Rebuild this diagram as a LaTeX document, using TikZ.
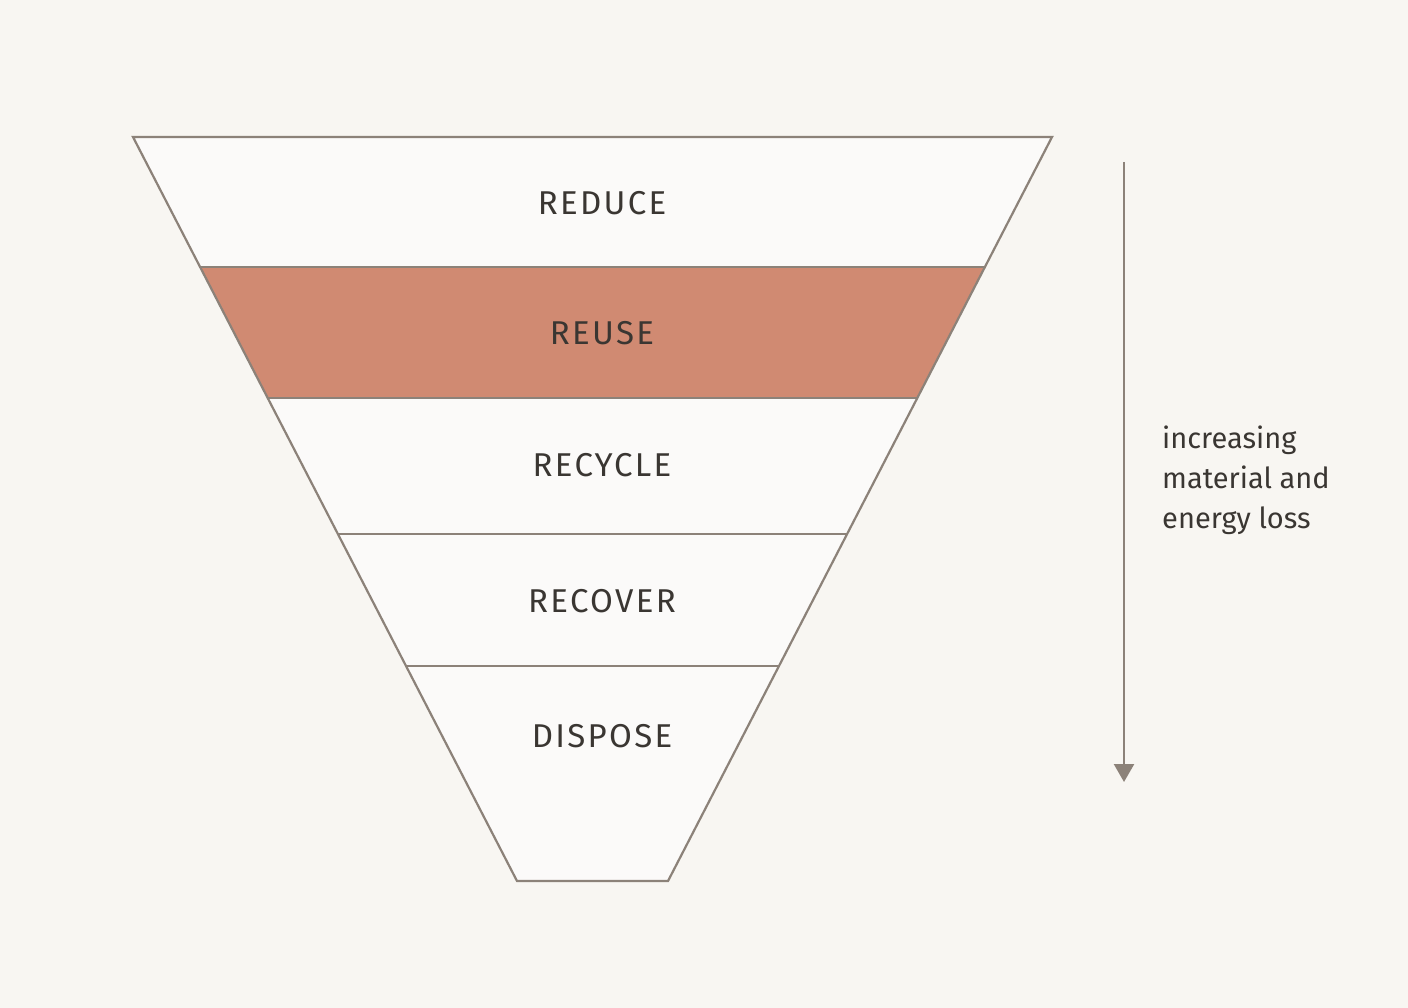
\documentclass[tikz,border=0pt]{standalone}
\usepackage{fontspec}
\setmainfont{Fira Sans}
\usetikzlibrary{arrows.meta}
\definecolor{bg}{HTML}{F8F6F2}
\definecolor{ln}{HTML}{8C8279}
\definecolor{hl}{HTML}{D08A72}
\definecolor{tx}{HTML}{3A3632}
\tikzset{
  band/.style={draw=ln, line width=2.2pt, line join=miter},
  lbl/.style={text=tx, font=\fontsize{33}{36}\selectfont\addfontfeature{LetterSpace=7}, anchor=center, inner sep=0pt},
  side/.style={text=tx, font=\fontsize{29}{40}\selectfont, align=left, anchor=north west, inner sep=0pt},
}
\begin{document}
\begin{tikzpicture}[x=1pt,y=-1pt]
\fill[bg] (0,0) rectangle (1408,1008);
\useasboundingbox (0,0) rectangle (1408,1008);
% funnel corners
\coordinate (tl) at (133,137); \coordinate (tr) at (1052,137);
\coordinate (bl) at (517,881); \coordinate (br) at (668,881);
\coordinate (l1) at (200,267); \coordinate (r1) at (985,267);
\coordinate (l2) at (268,398); \coordinate (r2) at (917,398);
\coordinate (l3) at (338,534); \coordinate (r3) at (847,534);
\coordinate (l4) at (406,666); \coordinate (r4) at (779,666);
\fill[white!50!bg] (tl) -- (tr) -- (br) -- (bl) -- cycle;
\fill[hl] (l1) -- (r1) -- (r2) -- (l2) -- cycle;
\draw[band] (tl) -- (tr) -- (br) -- (bl) -- cycle;
\draw[band] (l1) -- (r1);
\draw[band] (l2) -- (r2);
\draw[band] (l3) -- (r3);
\draw[band] (l4) -- (r4);
\node[lbl] (reduce) at (602,203) {REDUCE};
\node[lbl] (reuse) at (602,333) {REUSE};
\node[lbl] (recycle) at (602,465) {RECYCLE};
\node[lbl] (recover) at (602,601) {RECOVER};
\node[lbl] (dispose) at (602,736) {DISPOSE};
\coordinate (as) at (1124,162);
\coordinate (ae) at (1124,782);
\draw[ln, line width=2.5pt, -{Triangle[length=18pt,width=20pt]}] (as) -- (ae);
\node[side] (loss) at (1162,426) {increasing\\material and\\energy loss};
\end{tikzpicture}
\end{document}
